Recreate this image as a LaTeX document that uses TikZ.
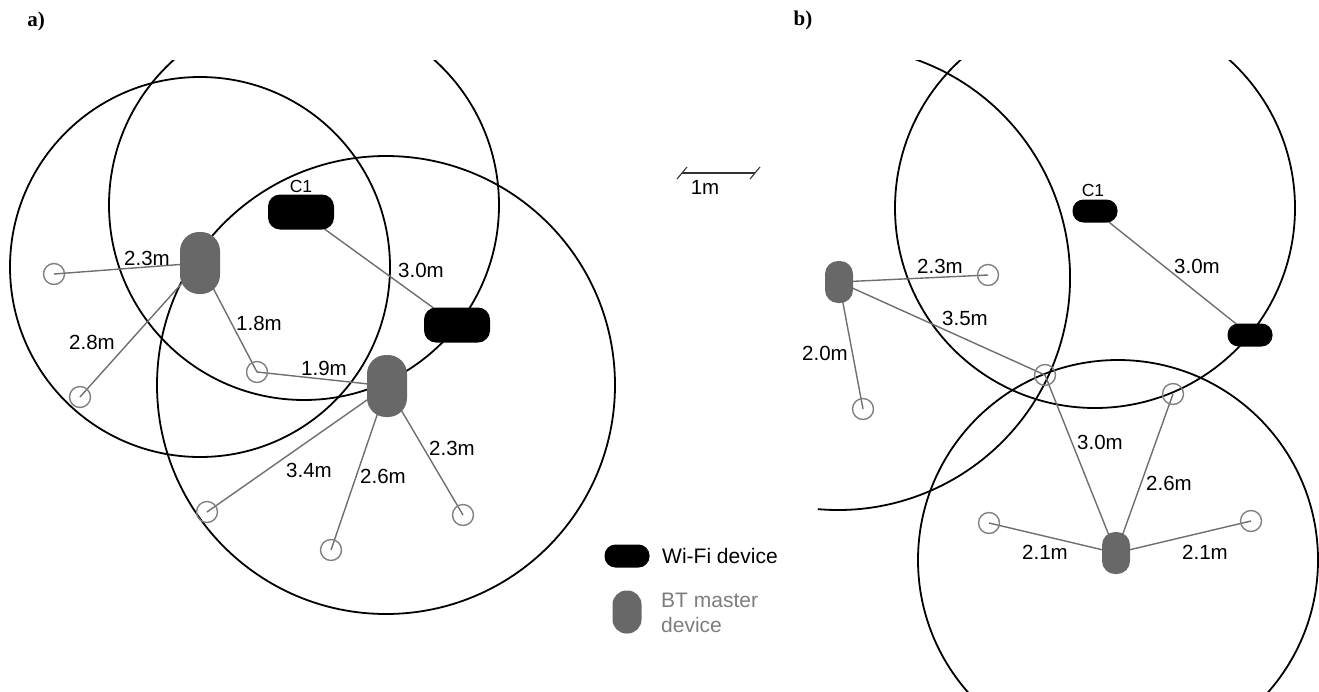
\documentclass[tikz,border=0pt]{standalone}
\usepackage{fontspec}
\setmainfont{Liberation Sans}
\newfontfamily\labfont{Liberation Serif}
\pgfdeclarelayer{bg}
\pgfsetlayers{bg,main}
\definecolor{linkgray}{RGB}{110,110,110}
\definecolor{slavegray}{RGB}{128,128,128}
\definecolor{btgray}{RGB}{104,104,104}
\definecolor{legtext}{RGB}{125,125,125}
\begin{document}
\begin{tikzpicture}[x=1pt,y=-1pt,
  rangecirc/.style={draw=black, line width=1.8pt},
  link/.style={draw=linkgray, line width=1.4pt},
  slave/.style={circle, draw=slavegray, line width=1.4pt, minimum size=21pt, inner sep=0pt},
  wifiA/.style={rectangle, fill=black, rounded corners=12pt, minimum width=66pt, minimum height=35pt, inner sep=0pt},
  btA/.style={rectangle, fill=btgray, rounded corners=19pt, minimum width=40pt, minimum height=62pt, inner sep=0pt},
  wifiB/.style={rectangle, fill=black, rounded corners=11pt, minimum width=45pt, minimum height=23pt, inner sep=0pt},
  btB/.style={rectangle, fill=btgray, rounded corners=13pt, minimum width=28pt, minimum height=42pt, inner sep=0pt},
  lbl/.style={inner sep=0pt, font=\fontsize{20.5}{24}\selectfont},
  clbl/.style={inner sep=0pt, font=\fontsize{17.5}{21}\selectfont},
  panel/.style={inner sep=0pt, font=\labfont\bfseries\fontsize{21}{24}\selectfont},
  leg/.style={inner sep=0pt, anchor=base west, font=\fontsize{21}{25}\selectfont}
]
\useasboundingbox (0,0) rectangle (1319,691);

% panel labels
\node[panel] (pa) at (36,21) {a)};
\node[panel] (pb) at (803,20) {b)};

% ---------- panel a ----------
\node[wifiA] (ca) at (301,212) {};
\node[clbl] (cal) at (301,186) {C1};
\node[wifiA] (wa) at (457,325) {};
\node[btA] (ba1) at (200,263) {};
\node[btA] (ba2) at (387,386) {};
\node[slave] (sa1) at (54,274) {};
\node[slave] (sa2) at (80,397) {};
\node[slave] (sa3) at (257,372) {};
\node[slave] (sa4) at (207,512) {};
\node[slave] (sa5) at (331,550) {};
\node[slave] (sa6) at (463,515) {};
\node[lbl] (la1) at (147,258) {2.3m};
\node[lbl] (la2) at (92,342) {2.8m};
\node[lbl] (la3) at (259,323) {1.8m};
\node[lbl] (la4) at (324,368) {1.9m};
\node[lbl] (la5) at (309,470) {3.4m};
\node[lbl] (la6) at (383,476) {2.6m};
\node[lbl] (la7) at (452,448) {2.3m};
\node[lbl] (la8) at (421,270) {3.0m};

% ---------- panel b ----------
\node[wifiB] (cb) at (1095,211) {};
\node[clbl] (cbl) at (1093,190) {C1};
\node[wifiB] (wb) at (1250,335) {};
\node[btB] (bb1) at (839,282) {};
\node[btB] (bb2) at (1116,553) {};
\node[slave] (sb1) at (988,275) {};
\node[slave] (sb2) at (863,409) {};
\node[slave] (sb3) at (1045,375) {};
\node[slave] (sb4) at (1173,394) {};
\node[slave] (sb5) at (989,523) {};
\node[slave] (sb6) at (1251,521) {};
\node[lbl] (lb1) at (940,266) {2.3m};
\node[lbl] (lb2) at (965,318) {3.5m};
\node[lbl] (lb3) at (825,353) {2.0m};
\node[lbl] (lb4) at (1197,266) {3.0m};
\node[lbl] (lb5) at (1100,442) {3.0m};
\node[lbl] (lb6) at (1169,483) {2.6m};
\node[lbl] (lb7) at (1045,552) {2.1m};
\node[lbl] (lb8) at (1205,552) {2.1m};

% ---------- scale bar ----------
\coordinate (sl) at (682,173);
\coordinate (sr) at (755,173);
\draw[line width=1.1pt, draw=black!80] (sl) -- (sr);
\draw[line width=1.1pt, draw=black!80] ([shift={(-5,6)}]sl) -- ([shift={(5,-6)}]sl);
\draw[line width=1.1pt, draw=black!80] ([shift={(-5,6)}]sr) -- ([shift={(5,-6)}]sr);
\node[lbl] (lsc) at (705,187) {1m};

% ---------- legend ----------
\node[wifiB] (legw) at (627,556) {};
\node[btB, minimum width=29pt, minimum height=43pt, rounded corners=14pt] (legb) at (627,612) {};
\node[leg] (legwt) at (662,563) {Wi-Fi device};
\node[leg, text=legtext] (legbt1) at (661,607) {BT master};
\node[leg, text=legtext] (legbt2) at (661,632) {device};

% ---------- background: ranges and links ----------
\begin{pgfonlayer}{bg}
  \begin{scope}
    \clip (0,60) rectangle (1319,691);
    \draw[rangecirc] (200,267) circle[radius=190];
    \draw[rangecirc] (304,205) circle[radius=195];
    \draw[rangecirc] (386,385) circle[radius=229];
    \draw[rangecirc] (1095,208) circle[radius=200];
    \draw[rangecirc] ([shift={(-72:232)}]838,278) arc[start angle=-72, end angle=95, radius=232];
    \draw[rangecirc] (1118,560) circle[radius=200];
  \end{scope}
  \draw[link] (ba1.center) -- (sa1.center);
  \draw[link] (ba1.center) -- (sa2.center);
  \draw[link] (ba1.center) -- (sa3.center);
  \draw[link] (ba2.center) -- (sa3.center);
  \draw[link] (ba2.center) -- (sa4.center);
  \draw[link] (ba2.center) -- (sa5.center);
  \draw[link] (ba2.center) -- (sa6.center);
  \draw[link] (ca.center) -- (wa.center);
  \draw[link] (bb1.center) -- (sb1.center);
  \draw[link] (bb1.center) -- (sb2.center);
  \draw[link] (bb1.center) -- (sb3.center);
  \draw[link] (bb2.center) -- (sb3.center);
  \draw[link] (bb2.center) -- (sb4.center);
  \draw[link] (bb2.center) -- (sb5.center);
  \draw[link] (bb2.center) -- (sb6.center);
  \draw[link] (cb.center) -- (wb.center);
\end{pgfonlayer}
\end{tikzpicture}
\end{document}
